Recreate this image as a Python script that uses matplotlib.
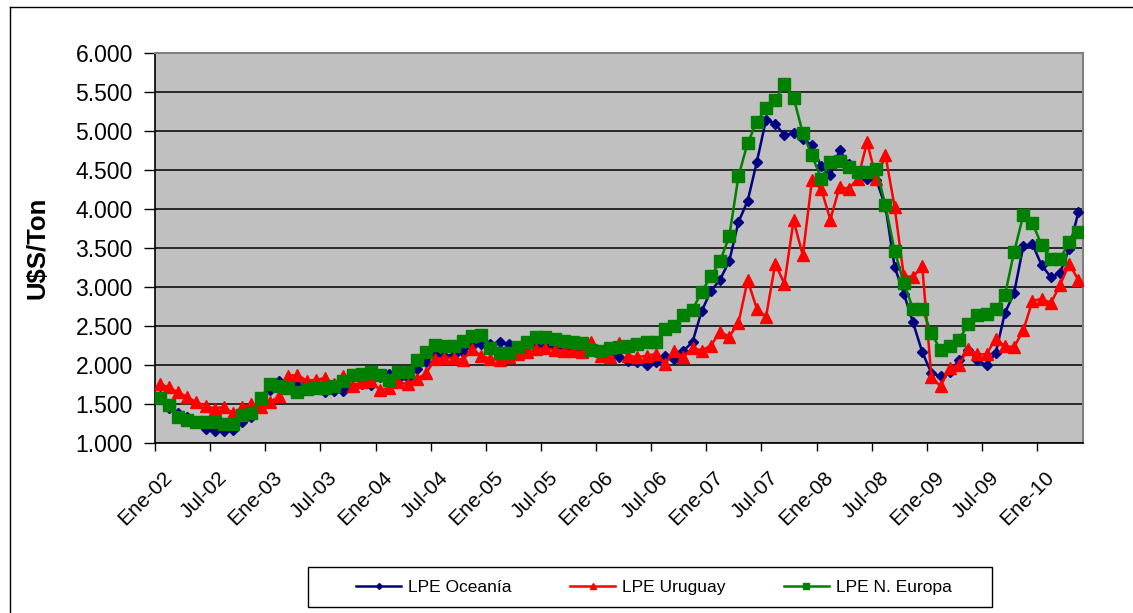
import matplotlib
matplotlib.use('Agg')
import matplotlib.pyplot as plt
from matplotlib.lines import Line2D
from matplotlib.patches import Rectangle
import numpy as np

plt.rcParams['font.family'] = ['Liberation Sans', 'DejaVu Sans']

# ---------------- data (monthly, Ene-02 .. May-10) ----------------
tick_labels = ['Ene-02', 'Jul-02', 'Ene-03', 'Jul-03', 'Ene-04', 'Jul-04',
               'Ene-05', 'Jul-05', 'Ene-06', 'Jul-06', 'Ene-07', 'Jul-07',
               'Ene-08', 'Jul-08', 'Ene-09', 'Jul-09', 'Ene-10']

oceania = [1600, 1450, 1380, 1330, 1286, 1180, 1158, 1150, 1167, 1265,
           1330, 1560, 1680, 1800, 1756, 1748, 1770, 1770, 1660, 1671,
           1665, 1720, 1756, 1748, 1842, 1890, 1820, 1830, 1949, 2034,
           2141, 2120, 2125, 2162, 2250, 2269, 2270, 2290, 2269, 2250,
           2250, 2248, 2240, 2230, 2220, 2210, 2200, 2180, 2180, 2150,
           2107, 2055, 2034, 2004, 2034, 2120, 2077, 2180, 2295, 2692,
           2949, 3094, 3333, 3834, 4103, 4603, 5146, 5094, 4945, 4975,
           4902, 4817, 4547, 4432, 4752, 4581, 4420, 4389, 4376, 4030,
           3257, 2915, 2545, 2167, 1897, 1855, 1910, 2060, 2188, 2060,
           1996, 2154, 2667, 2923, 3522, 3547, 3278, 3128, 3180, 3492,
           3962]

uruguay = [1756, 1714, 1650, 1590, 1521, 1479, 1440, 1466, 1380, 1457,
           1500, 1466, 1520, 1600, 1863, 1872, 1800, 1808, 1833, 1756,
           1863, 1735, 1778, 1790, 1680, 1705, 1778, 1756, 1820, 1893,
           2077, 2090, 2090, 2064, 2205, 2120, 2077, 2064, 2100, 2140,
           2162, 2205, 2218, 2192, 2184, 2175, 2162, 2290, 2120, 2100,
           2277, 2120, 2100, 2120, 2140, 2013, 2175, 2100, 2220, 2185,
           2250, 2423, 2365, 2538, 3086, 2722, 2615, 3299, 3043, 3855,
           3406, 4368, 4261, 3863, 4282, 4261, 4389, 4859, 4389, 4688,
           4026, 3140, 3128, 3270, 1846, 1727, 1966, 1996, 2209, 2137,
           2137, 2338, 2239, 2231, 2444, 2820, 2850, 2795, 3022, 3299,
           3086]

n_europa = [1580, 1490, 1330, 1295, 1270, 1268, 1265, 1248, 1246, 1360,
            1380, 1575, 1756, 1730, 1700, 1655, 1695, 1700, 1700, 1735,
            1790, 1875, 1880, 1905, 1875, 1810, 1905, 1910, 2060, 2165,
            2258, 2250, 2245, 2312, 2376, 2390, 2212, 2155, 2150, 2226,
            2290, 2354, 2354, 2333, 2312, 2290, 2277, 2192, 2184, 2218,
            2235, 2248, 2269, 2290, 2290, 2461, 2504, 2635, 2710, 2940,
            3137, 3330, 3650, 4419, 4846, 5116, 5300, 5394, 5599, 5428,
            4975, 4688, 4389, 4603, 4616, 4540, 4480, 4470, 4510, 4047,
            3462, 3051, 2722, 2722, 2410, 2188, 2239, 2325, 2521, 2637,
            2650, 2722, 2893, 3449, 3919, 3821, 3534, 3363, 3363, 3577,
            3705]

series_names = ['LPE Oceanía', 'LPE Uruguay', 'LPE N. Europa']

# ---------------- figure ----------------
W, H = 1133, 613
fig = plt.figure(figsize=(W / 100, H / 100), dpi=100)
fig.patch.set_facecolor('white')

ax = fig.add_axes([155 / W, 1 - 443 / H, (1083 - 155) / W, (443 - 53) / H])
ax.set_facecolor('#C0C0C0')

x = np.arange(len(oceania))
l1, = ax.plot(x, oceania, color='#000080', marker='D', ms=5, lw=1.8, zorder=3)
l2, = ax.plot(x, uruguay, color='#FF0000', marker='^', ms=8, lw=1.8, zorder=4)
l3, = ax.plot(x, n_europa, color='#008000', marker='s', ms=8, lw=1.8, zorder=5)

ax.set_xlim(-0.5, len(oceania) - 0.5)
ax.set_ylim(1000, 6000)

yt = np.arange(1000, 6001, 500)
ax.set_yticks(yt, labels=[f"{v:,}".replace(',', '.') for v in yt])
ax.yaxis.grid(True, color='black', lw=1.1)
ax.set_axisbelow(True)
ax.tick_params(axis='y', direction='out', length=8, width=1, pad=8,
               labelsize=16.5, color='black')

step = 6
major_pos = [-0.5 + step * k for k in range(len(tick_labels))]
label_pos = [step * k + 0.3 for k in range(len(tick_labels))]
ax.set_xticks(major_pos)
ax.set_xticklabels([])
ax.set_xticks(label_pos, labels=tick_labels, minor=True)
ax.tick_params(axis='x', which='major', direction='out', length=6, width=1)
ax.tick_params(axis='x', which='minor', length=0, pad=18, labelsize=15)
for t in ax.get_xticklabels(minor=True):
    t.set_rotation(45)
    t.set_ha('right')
    t.set_va('top')
    t.set_rotation_mode('anchor')

for s in ['left', 'bottom']:
    ax.spines[s].set_color('black')
    ax.spines[s].set_linewidth(1.2)
for s in ['top', 'right']:
    ax.spines[s].set_color('#808080')
    ax.spines[s].set_linewidth(1.5)

fig.text(38 / W, 1 - 248 / H, 'U$S/Ton', rotation=90, ha='center',
         va='center', fontsize=18.5, fontweight='bold')

# legend
fig.add_artist(Rectangle((308 / W, 1 - 607 / H), 684 / W, 40 / H,
                         transform=fig.transFigure, fill=False,
                         edgecolor='black', lw=1))
fig.legend([l1, l2, l3], series_names, loc='center',
           bbox_to_anchor=(654 / W, 1 - 587 / H), ncol=3, frameon=False,
           fontsize=12.5, handlelength=2.6, columnspacing=3.35,
           handletextpad=0.4, markerscale=0.6)

# outer chart border
fig.add_artist(Line2D([10 / W, 10 / W], [0, 1 - 7 / H],
                      transform=fig.transFigure, color='black', lw=1))
fig.add_artist(Line2D([10 / W, 1], [1 - 7 / H, 1 - 7 / H],
                      transform=fig.transFigure, color='black', lw=1))

fig.savefig('out.png', dpi=100)
